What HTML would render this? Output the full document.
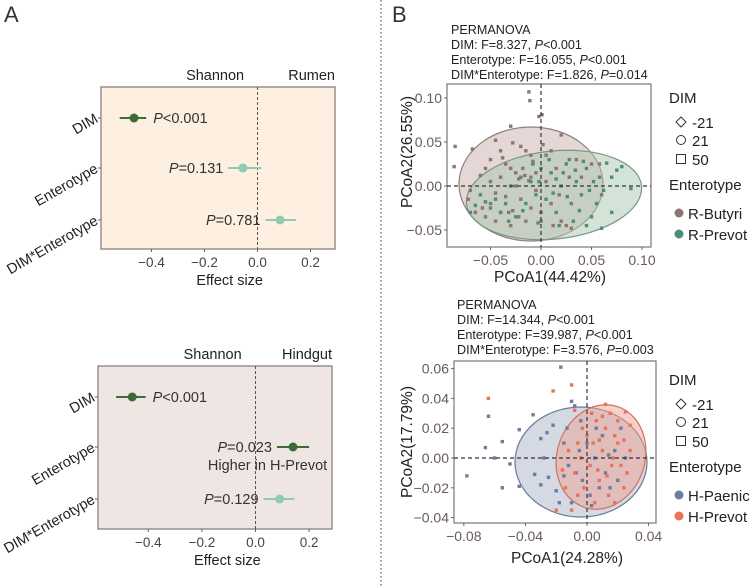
<!DOCTYPE html>
<html><head><meta charset="utf-8"><style>
body{margin:0;background:#fff;}
svg{display:block;font-family:"Liberation Sans",sans-serif;}
</style></head><body>
<svg id="fig" width="755" height="587" viewBox="0 0 755 587">
<text x="4" y="22" font-size="22" fill="#333">A</text>
<text x="392" y="22" font-size="22" fill="#333">B</text>
<line x1="381" y1="0" x2="381" y2="587" stroke="#8a6aa6" stroke-width="1.5" stroke-dasharray="1.5,2.5"/>
<g id="fa"></g><g id="fb"></g><g id="pa"></g><g id="pb"></g>
</svg>
<script>
// ---- Forest plot data ----
const forestRows = ["DIM","Enterotype","DIM*Enterotype"];
const rumenEst = [-0.466, -0.055, 0.085];
const rumenLo = [-0.52, -0.11, 0.03];
const rumenHi = [-0.42, 0.015, 0.145];
const rumenP = ["<0.001","=0.131","=0.781"];
const rumenSig = [true,false,false];
const hindEst = [-0.46, 0.14, 0.09];
const hindLo = [-0.52, 0.08, 0.03];
const hindHi = [-0.41, 0.20, 0.145];
const hindP = ["<0.001","=0.023","=0.129"];
const hindSig = [true,true,false];
const forestTicks = [-0.4,-0.2,0.0,0.2];
const forestTickLabels = ["\u22120.4","\u22120.2","0.0","0.2"];

// ---- PCoA data ----
const rumenButyri = [[-0.012,0.107],[-0.011,0.097],[-0.002,0.079],[0.001,0.081],[-0.03,0.068],[-0.085,0.045],[-0.086,0.022],[-0.068,0.042],[-0.045,0.052],[-0.04,0.04],[-0.028,0.049],[-0.02,0.045],[-0.015,0.04],[-0.01,0.035],[0.002,0.047],[0.02,0.058],[0.01,0.04],[-0.05,0.03],[-0.035,0.025],[-0.03,0.02],[-0.025,0.015],[-0.018,0.02],[-0.01,0.01],[-0.005,0.015],[-0.06,0.012],[-0.055,0.02],[-0.04,0.01],[-0.07,-0.005],[-0.072,-0.015],[-0.065,-0.03],[-0.055,-0.035],[-0.05,-0.02],[-0.045,-0.04],[-0.04,-0.03],[-0.035,-0.012],[-0.03,-0.045],[-0.028,-0.028],[-0.022,-0.035],[-0.02,-0.015],[-0.015,-0.04],[-0.01,-0.025],[-0.005,-0.005],[0.005,0.005],[0.01,-0.02],[0.015,0.02],[0.02,-0.04],[0.025,-0.045],[0.03,-0.048],[0.035,0.03],[0.04,0.01],[0.05,0.025],[0.058,0.025],[0.06,-0.01],[-0.05,0.005],[-0.025,0.0],[0.0,-0.03],[0.012,-0.045],[-0.008,0.028],[0.028,0.01],[-0.045,-0.008],[-0.016,0.012],[-0.012,0.006],[-0.022,0.008],[-0.032,-0.03],[-0.058,-0.025],[-0.038,0.032],[0.005,0.035],[-0.003,-0.042],[0.018,-0.01]];
const rumenPrevot = [[0.089,-0.003],[0.08,0.022],[0.075,0.018],[0.07,-0.03],[0.06,-0.048],[0.065,0.026],[0.058,0.01],[0.055,-0.02],[0.05,-0.035],[0.045,0.02],[0.04,-0.01],[0.035,0.005],[0.03,-0.02],[0.025,0.025],[0.02,0.0],[0.015,-0.03],[0.01,0.015],[0.005,-0.015],[0.0,0.02],[-0.005,-0.01],[-0.01,0.005],[-0.015,-0.02],[-0.02,0.01],[-0.025,-0.035],[-0.03,0.0],[-0.035,-0.02],[-0.04,-0.03],[-0.045,-0.015],[-0.05,-0.025],[-0.055,-0.018],[-0.06,-0.01],[-0.065,-0.022],[-0.07,-0.03],[0.028,0.03],[0.042,0.028],[0.048,-0.005],[0.018,-0.045],[0.008,0.03],[-0.008,0.025],[0.032,-0.04],[0.052,0.005],[0.062,-0.005],[0.012,-0.008],[-0.018,-0.028],[0.022,0.015],[0.038,-0.028],[0.0,-0.04],[-0.032,-0.04],[0.07,0.01],[0.045,-0.045],[0.026,-0.012],[0.034,0.018],[0.015,0.008],[-0.002,0.005]];
const hindPaenic = [[-0.017,0.061],[-0.064,0.028],[-0.078,-0.012],[-0.066,0.007],[-0.06,0.0],[-0.055,0.011],[-0.055,-0.02],[-0.05,-0.004],[-0.044,0.019],[-0.044,-0.019],[-0.035,0.029],[-0.034,-0.011],[-0.03,0.013],[-0.03,-0.018],[-0.026,0.017],[-0.025,-0.013],[-0.022,0.022],[-0.02,-0.022],[-0.015,0.01],[-0.013,0.02],[-0.01,0.038],[-0.008,0.035],[-0.012,-0.005],[-0.01,-0.03],[-0.005,0.005],[-0.003,-0.015],[0.0,0.01],[0.002,-0.025],[0.005,0.0],[0.008,-0.02],[0.01,0.015],[0.012,-0.01],[0.015,-0.02],[0.018,0.005],[0.02,-0.015],[0.022,0.02],[0.025,0.0],[0.003,-0.032],[-0.007,-0.01],[0.006,0.02],[-0.018,-0.03],[-0.028,0.0],[-0.015,-0.012],[0.014,0.002],[-0.004,0.025]];
const hindPrevot = [[-0.064,0.04],[-0.022,0.045],[-0.01,0.049],[-0.008,0.032],[0.012,0.036],[0.025,0.031],[0.028,0.022],[0.028,0.005],[0.026,-0.01],[0.024,-0.02],[0.02,0.025],[0.018,0.015],[0.016,-0.005],[0.014,-0.025],[0.012,0.02],[0.01,0.005],[0.008,-0.015],[0.006,0.025],[0.004,0.01],[0.002,-0.005],[0.0,0.015],[-0.002,-0.02],[-0.004,0.0],[-0.006,0.01],[-0.008,-0.01],[-0.01,-0.035],[-0.012,0.005],[-0.014,-0.02],[-0.02,-0.035],[0.005,-0.03],[0.015,0.03],[0.022,-0.005],[0.018,-0.03],[0.01,0.028],[-0.003,0.02],[0.02,0.01],[0.007,-0.008],[-0.006,-0.025],[0.013,-0.012],[0.024,0.012],[0.003,0.03],[-0.016,-0.008],[0.017,0.0],[0.008,0.012]];
const rumenXTicks = [-0.05,0.0,0.05,0.10];
const rumenYTicks = [-0.05,0.0,0.05,0.10];
const hindXTicks = [-0.08,-0.04,0.0,0.04];
const hindYTicks = [-0.04,-0.02,0.0,0.02,0.04,0.06];

const NS="http://www.w3.org/2000/svg";
function mk(parent,tag,attrs,text){const e=document.createElementNS(NS,tag);for(const k in attrs)e.setAttribute(k,attrs[k]);if(text!==undefined)e.textContent=text;parent.appendChild(e);return e;}
function fmt(v,d){return (v<0?"\u2212":"")+Math.abs(v).toFixed(d);}

function forest(g,box,zero,scale,rowsY,est,lo,hi,pv,sig,bg,leftTitle,rightTitle,note){
  const X=v=>zero+v*scale;
  const r=mk(g,'rect',{x:box[0],y:box[1],width:box[2]-box[0],height:box[3]-box[1],fill:bg,stroke:'#8c807b','stroke-width':1.3});
  
  const z=mk(g,'line',{x1:X(0),x2:X(0),y1:box[1],y2:box[3],stroke:'#555','stroke-dasharray':'3,2','stroke-width':1});
  
  const t1=mk(g,'text',{x:X(-0.16),y:box[1]-7,'font-size':14.5,'text-anchor':'middle',fill:'#222'},leftTitle);
  
  const t2=mk(g,'text',{x:box[2],y:box[1]-7,'font-size':14.5,'text-anchor':'end',fill:'#222'},rightTitle);
  
  forestTicks.forEach((t,i)=>{
    mk(g,'line',{x1:X(t),x2:X(t),y1:box[3],y2:box[3]+3,stroke:'#666'});
    const tl=mk(g,'text',{x:X(t),y:box[3]+18,'font-size':13.5,'text-anchor':'middle',fill:'#444'},forestTickLabels[i]);
    
  });
  const xt=mk(g,'text',{x:X(-0.105),y:box[3]+36,'font-size':14.5,'text-anchor':'middle',fill:'#222'},'Effect size');
  
  forestRows.forEach((name,i)=>{
    const y=rowsY[i];
    mk(g,'line',{x1:box[0]-3,x2:box[0],y1:y,y2:y,stroke:'#666'});
    const yl=mk(g,'text',{x:box[0]-4,y:y+4,'font-size':14.5,'text-anchor':'end',fill:'#222',transform:`rotate(-30 ${box[0]-4} ${y})`},name);
    
    const col=sig[i]?'#3e6b35':'#8fcab2';
    const ci=mk(g,'line',{x1:X(lo[i]),x2:X(hi[i]),y1:y,y2:y,stroke:col,'stroke-width':2});
    
    const pt=mk(g,'circle',{cx:X(est[i]),cy:y,r:4.5,fill:col});
    
    const left=est[i]<-0.2;
    const tx=left?X(hi[i])+7:X(lo[i])-5;
    const pt2=mk(g,'text',{x:tx,y:y+5,'font-size':14.5,'text-anchor':left?'start':'end',fill:'#333'});
    
    mk(pt2,'tspan',{'font-style':'italic'},'P');mk(pt2,'tspan',{},pv[i]);
    if(note && i===1){const n=mk(g,'text',{x:X(0.045),y:y+23,'font-size':14.5,'text-anchor':'middle',fill:'#333'},note);
      }
  });
}
forest(document.getElementById('fa'),[101,87,335,249],257.5,265,[118,168,220],rumenEst,rumenLo,rumenHi,rumenP,rumenSig,'#fdf0e1','Shannon','Rumen',null);
forest(document.getElementById('fb'),[98,366,332,529],255.5,268,[397,447,499],hindEst,hindLo,hindHi,hindP,hindSig,'#efe5e3','Shannon','Hindgut','Higher in H-Prevot');

function pcoa(g,o){
  const X=v=>o.x0+v*o.sx, Y=v=>o.y0-v*o.sy;
  o.stats.forEach((s,i)=>{
    const t=mk(g,'text',{x:o.statX,y:o.statY+i*15,'font-size':12.6,fill:'#222'});
    
    if(Array.isArray(s)){mk(t,'tspan',{},s[0]);mk(t,'tspan',{'font-style':'italic'},'P');mk(t,'tspan',{},s[1]);}else t.textContent=s;
  });
  const b=o.box;
  const bg=mk(g,'rect',{x:b[0],y:b[1],width:b[2]-b[0],height:b[3]-b[1],fill:'#fff',stroke:'#777','stroke-width':1.2});
  
  o.ell.forEach(e=>{
    const el=mk(g,'ellipse',{cx:e.cx,cy:e.cy,rx:e.rx,ry:e.ry,fill:e.fill,'fill-opacity':0.5,stroke:e.stroke,'stroke-width':1.2,transform:`rotate(${e.rot} ${e.cx} ${e.cy})`});
    
  });
  o.groups.forEach(gr=>{gr.pts.forEach(p=>{
    const r=mk(g,'rect',{x:X(p[0])-1.7,y:Y(p[1])-1.7,width:3.4,height:3.4,fill:gr.col});
    
  });});
  const hl=mk(g,'line',{x1:b[0],x2:b[2],y1:Y(0),y2:Y(0),stroke:'#333','stroke-dasharray':'4,3','stroke-width':1.2});
  
  const vl=mk(g,'line',{x1:X(0),x2:X(0),y1:b[1],y2:b[3],stroke:'#333','stroke-dasharray':'4,3','stroke-width':1.2});
  
  o.xt.forEach(t=>{mk(g,'line',{x1:X(t),x2:X(t),y1:b[3],y2:b[3]+3,stroke:'#666'});
    const l=mk(g,'text',{x:X(t),y:b[3]+18,'font-size':14,'text-anchor':'middle',fill:'#6a5a5a'},fmt(t,2));
    });
  o.yt.forEach(t=>{mk(g,'line',{x1:b[0]-3,x2:b[0],y1:Y(t),y2:Y(t),stroke:'#666'});
    const l=mk(g,'text',{x:b[0]-5,y:Y(t)+5,'font-size':14,'text-anchor':'end',fill:'#6a5a5a'},fmt(t,2));
    });
  const xa=mk(g,'text',{x:o.xtitle[0],y:o.xtitle[1],'font-size':15.5,'text-anchor':'middle',fill:'#222'},o.xtitle[2]);
  
  const ya=mk(g,'text',{x:412,y:o.ytitle[0],'font-size':15.5,'text-anchor':'middle',fill:'#222',transform:`rotate(-90 412 ${o.ytitle[0]})`},o.ytitle[1]);
  
  const L=o.leg;
  const lt=mk(g,'text',{x:669,y:L,'font-size':15,fill:'#222'},'DIM');
  
  const sy=[L+19,L+37,L+56];
  mk(g,'path',{d:`M${681},${sy[0]-5}l5,5l-5,5l-5,-5z`,fill:'none',stroke:'#333'});
  mk(g,'circle',{cx:681,cy:sy[1],r:4.5,fill:'none',stroke:'#333'});
  mk(g,'rect',{x:676.5,y:sy[2]-4.5,width:9,height:9,fill:'none',stroke:'#333'});
  ['-21','21','50'].forEach((s,i)=>{const t=mk(g,'text',{x:692,y:sy[i]+6,'font-size':15,fill:'#222'},s);
    });
  const et=mk(g,'text',{x:669,y:L+87,'font-size':15,fill:'#222'},'Enterotype');
  
  o.groups.forEach((gr,i)=>{const yy=L+110+i*21;
    mk(g,'circle',{cx:679,cy:yy,r:4.5,fill:gr.col});
    const t=mk(g,'text',{x:688,y:yy+6,'font-size':15,fill:'#222'},gr.name);
    });
}
pcoa(document.getElementById('pa'),{x0:541,sx:1010,y0:186,sy:880,box:[447,84,651,247],statX:451,statY:34,
  stats:['PERMANOVA',['DIM: F=8.327, ','<0.001'],['Enterotype: F=16.055, ','<0.001'],['DIM*Enterotype: F=1.826, ','=0.014']],
  ell:[{cx:531,cy:184,rx:72,ry:57,rot:0,fill:'#c9afab',stroke:'#8f7f7a'},{cx:554,cy:195,rx:88,ry:44,rot:-6,fill:'#a9c8b0',stroke:'#7a9585'}],
  groups:[{pts:rumenButyri,col:'#8c7572',name:'R-Butyri'},{pts:rumenPrevot,col:'#4e8d76',name:'R-Prevot'}],
  xt:rumenXTicks,yt:rumenYTicks,xtitle:[550,282,'PCoA1(44.42%)'],ytitle:[152,'PCoA2(26.55%)'],leg:103});
pcoa(document.getElementById('pb'),{x0:587,sx:1540,y0:458,sy:1490,box:[454,361,656,523],statX:457,statY:309,
  stats:['PERMANOVA',['DIM: F=14.344, ','<0.001'],['Enterotype: F=39.987, ','<0.001'],['DIM*Enterotype: F=3.576, ','=0.003']],
  ell:[{cx:581,cy:462,rx:66,ry:55,rot:0,fill:'#a9b4c9',stroke:'#6c7a94'},{cx:601,cy:457,rx:44,ry:53,rot:18,fill:'#eea394',stroke:'#d4705c'}],
  groups:[{pts:hindPaenic,col:'#6b7ea0',name:'H-Paenic'},{pts:hindPrevot,col:'#e8735b',name:'H-Prevot'}],
  xt:hindXTicks,yt:hindYTicks,xtitle:[567,563,'PCoA1(24.28%)'],ytitle:[442,'PCoA2(17.79%)'],leg:385});
</script>
</body></html>
